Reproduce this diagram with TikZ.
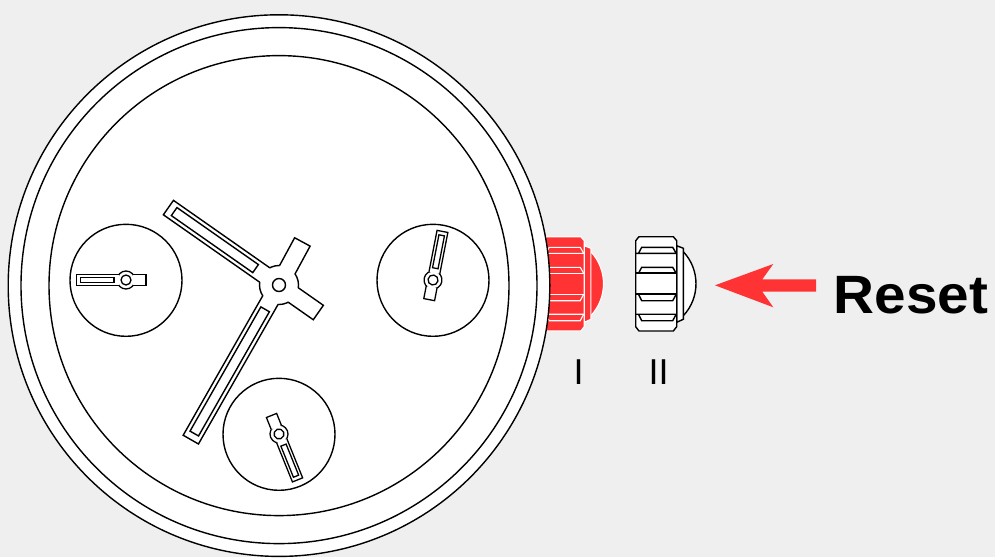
\documentclass[tikz,border=0pt]{standalone}
\usepackage{fontspec}
\setmainfont{Liberation Sans}
\definecolor{bgc}{HTML}{EFEFEF}
\definecolor{redc}{HTML}{FF3333}
\tikzset{
  ln/.style={line width=1.4pt,draw=black,line join=miter},
  rim/.style={ln,fill=white},
  thin hand/.style={line width=1.3pt,draw=black,fill=white},
}
\newcommand{\crown}[5]{%
\begin{scope}[xshift=#1pt,line join=miter]
  \filldraw[draw=#2,fill=#3,line width=#5pt] (683.3,251.7) .. controls (700.2,269.6) and (700.2,297.8) .. (683.3,315.7);
  \filldraw[draw=#2,fill=#3,line width=#5pt] (676.7,245.7) -- (683.3,248.3) -- (683.3,319.3) -- (676.7,322.3) -- cycle;
  \filldraw[draw=#2,fill=#3,line width=#5pt] (639,236.7) -- (673.3,236.7) -- (676.7,240.7) -- (676.7,326.7) -- (673.3,331) -- (639,331) -- (635.7,326.7) -- (635.7,240.7) -- cycle;
  \draw[draw=#2,line width=#5pt] (635.7,253.3) -- (676.7,253.3) (638.5,253.3) -- (641.7,247.3) -- (672.7,247.3) -- (676.2,253.3);
  \draw[draw=#2,line width=#4pt] (635.7,273.3) -- (676.7,273.3);
  \draw[draw=#2,line width=#5pt] (638.5,273.3) -- (641.7,267.3) -- (672.7,267.3) -- (676.2,273.3);
  \draw[draw=#2,line width=#4pt] (635.7,294.3) -- (676.7,294.3);
  \draw[draw=#2,line width=#5pt] (638.5,294.3) -- (641.7,300.7) -- (672.7,300.7) -- (676.2,294.3);
  \draw[draw=#2,line width=#5pt] (635.7,314.2) -- (676.7,314.2) (638.5,314.2) -- (641.7,320.7) -- (672.7,320.7) -- (676.2,314.2);
\end{scope}}
\newcommand{\arm}[6]{%
\begin{scope}[rotate=#1]
  \path[fill=white] (17.4,-#3) -- (#2,-#3) -- (#2,#3) -- (17.4,#3) -- cycle;
  \path[fill=white] (12,-#3+0.7) rectangle (18,#3-0.7);
  \draw[ln] (17.4,-#3) -- (#2,-#3) -- (#2,#3) -- (17.4,#3);
  \ifdim #5pt>0pt \draw[ln] (#4,-#6) rectangle (#5,#6); \fi
\end{scope}}
\newcommand{\subhand}[3]{%
\begin{scope}[shift={(#2,#3)},rotate=#1]
  \draw[thin hand] (0,0) circle[radius=9];
  \path[fill=white] (7.3,-6) -- (49.5,-6) -- (49.5,6) -- (7.3,6) -- cycle;
  \path[fill=white] (-7.3,-5.5) -- (-20,-5.5) -- (-20,5.5) -- (-7.3,5.5) -- cycle;
  \draw[thin hand,fill=none] (7.3,-5.5) -- (49.5,-5.5) -- (49.5,5.5) -- (7.3,5.5);
  \draw[thin hand,fill=none] (-7.3,-5.5) -- (-20,-5.5) -- (-20,5.5) -- (-7.3,5.5);
  \draw[thin hand] (12,-2.8) rectangle (45.5,2.8);
  \draw[thin hand] (0,0) circle[radius=5];
\end{scope}}
\begin{document}
\begin{tikzpicture}[x=1pt,y=-1pt]
  \path[fill=bgc,use as bounding box] (0,0) rectangle (995,557);
  \crown{-92.5}{white}{redc}{1.5}{1.1}
  \crown{0}{black}{white}{2.2}{1.4}
  \coordinate (ctr) at (279,285.6);
  \draw[rim] (ctr) circle[radius=270.8];
  \draw[ln] (ctr) circle[radius=258];
  \draw[ln] (ctr) circle[radius=230];
  \draw[ln] (126,280.3) circle[radius=56];
  \draw[ln] (433,280.3) circle[radius=56];
  \draw[ln] (279,434.3) circle[radius=56];
  \subhand{180}{126}{280}
  \subhand{79}{433}{280}
  \subhand{-68}{279}{434}
  \begin{scope}[shift={(279,285)}]
    \draw[rim] (0,0) circle[radius=19.5];
    \arm{145}{135}{8.8}{28.6}{128}{4.9}
    \arm{61.5}{49}{8.8}{0}{0}{0}
    \arm{-35}{48}{8.8}{0}{0}{0}
    \arm{240.3}{178}{8.8}{28}{171}{4.9}
    \draw[ln] (0,0) circle[radius=6.5];
  \end{scope}
  \fill[redc] (715,285.3) -- (773.3,264) -- (762.3,279.3) -- (816,279.3) -- (816,291.7) -- (762.3,291.7) -- (773.3,307.3) -- cycle;
  \node[font=\fontsize{54}{54}\selectfont\bfseries,xscale=1.05,anchor=base west,inner sep=0pt] (reset) at (833.5,313.3) {Reset};
  \node[font=\fontsize{36}{36}\selectfont,anchor=base,inner sep=0pt] (one) at (578.6,384) {I};
  \node[font=\fontsize{36}{36}\selectfont,anchor=base,inner sep=0pt] (two) at (658.7,384) {II};
\end{tikzpicture}
\end{document}
